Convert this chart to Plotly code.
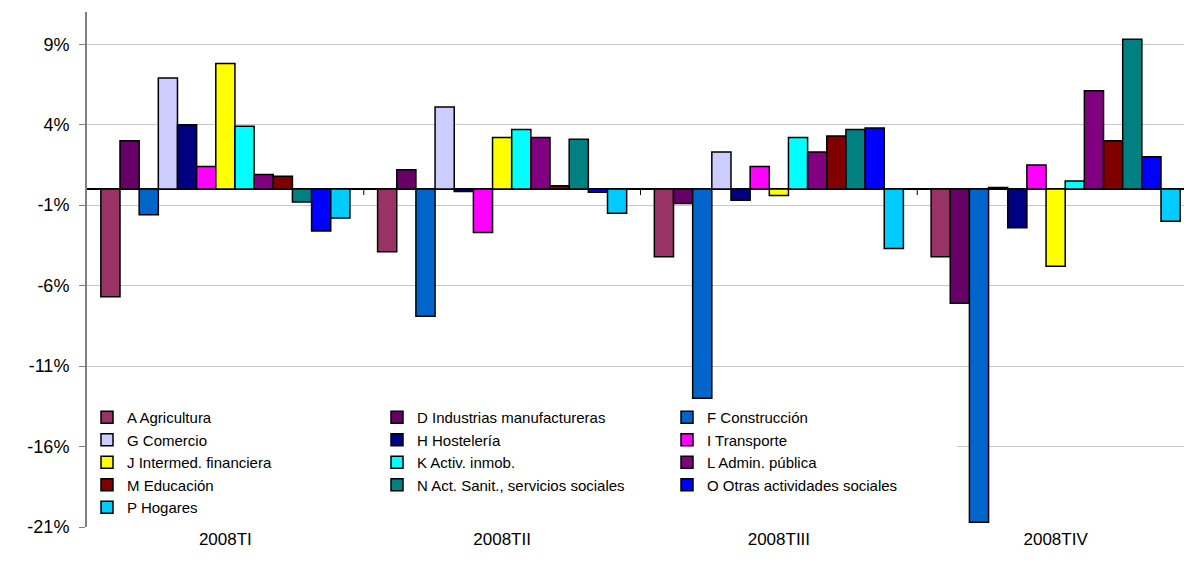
import plotly.graph_objects as go

quarters = ["2008TI", "2008TII", "2008TIII", "2008TIV"]

A_agricultura = [-6.7, -3.9, -4.2, -4.2]
D_industrias = [3.0, 1.2, -0.9, -7.1]
F_construccion = [-1.6, -7.9, -13.0, -20.7]
G_comercio = [6.9, 5.1, 2.3, 0.1]
H_hosteleria = [4.0, -0.15, -0.7, -2.4]
I_transporte = [1.4, -2.7, 1.4, 1.5]
J_intermed = [7.8, 3.2, -0.4, -4.8]
K_activ = [3.9, 3.7, 3.2, 0.5]
L_admin = [0.9, 3.2, 2.3, 6.1]
M_educacion = [0.8, 0.2, 3.3, 3.0]
N_sanit = [-0.8, 3.1, 3.7, 9.3]
O_otras = [-2.6, -0.2, 3.8, 2.0]
P_hogares = [-1.8, -1.5, -3.7, -2.0]

series = [
    ("A Agricultura", A_agricultura, "#993366"),
    ("D Industrias manufactureras", D_industrias, "#660066"),
    ("F Construcción", F_construccion, "#0066CC"),
    ("G Comercio", G_comercio, "#CCCCFF"),
    ("H Hostelería", H_hosteleria, "#000080"),
    ("I Transporte", I_transporte, "#FF00FF"),
    ("J Intermed. financiera", J_intermed, "#FFFF00"),
    ("K Activ. inmob.", K_activ, "#00FFFF"),
    ("L Admin. pública", L_admin, "#800080"),
    ("M Educación", M_educacion, "#800000"),
    ("N Act. Sanit., servicios sociales", N_sanit, "#008080"),
    ("O Otras actividades sociales", O_otras, "#0000FF"),
    ("P Hogares", P_hogares, "#00CCFF"),
]

fig = go.Figure()
for name, vals, color in series:
    fig.add_trace(go.Bar(
        x=quarters, y=vals, name=name,
        marker=dict(color=color, line=dict(color="black", width=1.5)),
    ))

# small tick marks on the zero line between categories (category-axis ticks)
for i in range(len(quarters) - 1):
    fig.add_shape(
        type="line", xref="x", yref="y",
        x0=i + 0.5, x1=i + 0.5,
        ysizemode="pixel", yanchor=0, y0=0, y1=-6,
        line=dict(color="black", width=1),
    )

y_ticks = [9, 4, -1, -6, -11, -16, -21]

fig.update_layout(
    width=1192, height=572,
    margin=dict(l=79, r=6, t=4, b=53),
    paper_bgcolor="white", plot_bgcolor="white",
    barmode="group", bargap=0.1, bargroupgap=0,
    font=dict(family="Liberation Sans, Arial, sans-serif", color="black"),
    showlegend=True,
    legend=dict(
        orientation="h", x=0, y=0.006, xanchor="left", yanchor="bottom",
        bgcolor="white", borderwidth=0,
        font=dict(size=15, family="Liberation Sans, Arial, sans-serif"),
        entrywidth=245, entrywidthmode="pixels",
        tracegroupgap=0, itemwidth=30,
    ),
    xaxis=dict(
        type="category", showgrid=False, showline=False, ticks="",
        tickfont=dict(size=17), zeroline=False,
    ),
    yaxis=dict(
        range=[-21, 11], tickvals=y_ticks,
        ticktext=[f"{v}%" for v in y_ticks],
        showgrid=True, gridcolor="#C8C8C8", gridwidth=1,
        zeroline=True, zerolinecolor="black", zerolinewidth=1.5,
        showline=True, linecolor="#808080", linewidth=2,
        ticks="outside", ticklen=6, tickcolor="#808080",
        tickfont=dict(size=18), ticklabelstandoff=6,
    ),
)

fig.write_html("out.html")
